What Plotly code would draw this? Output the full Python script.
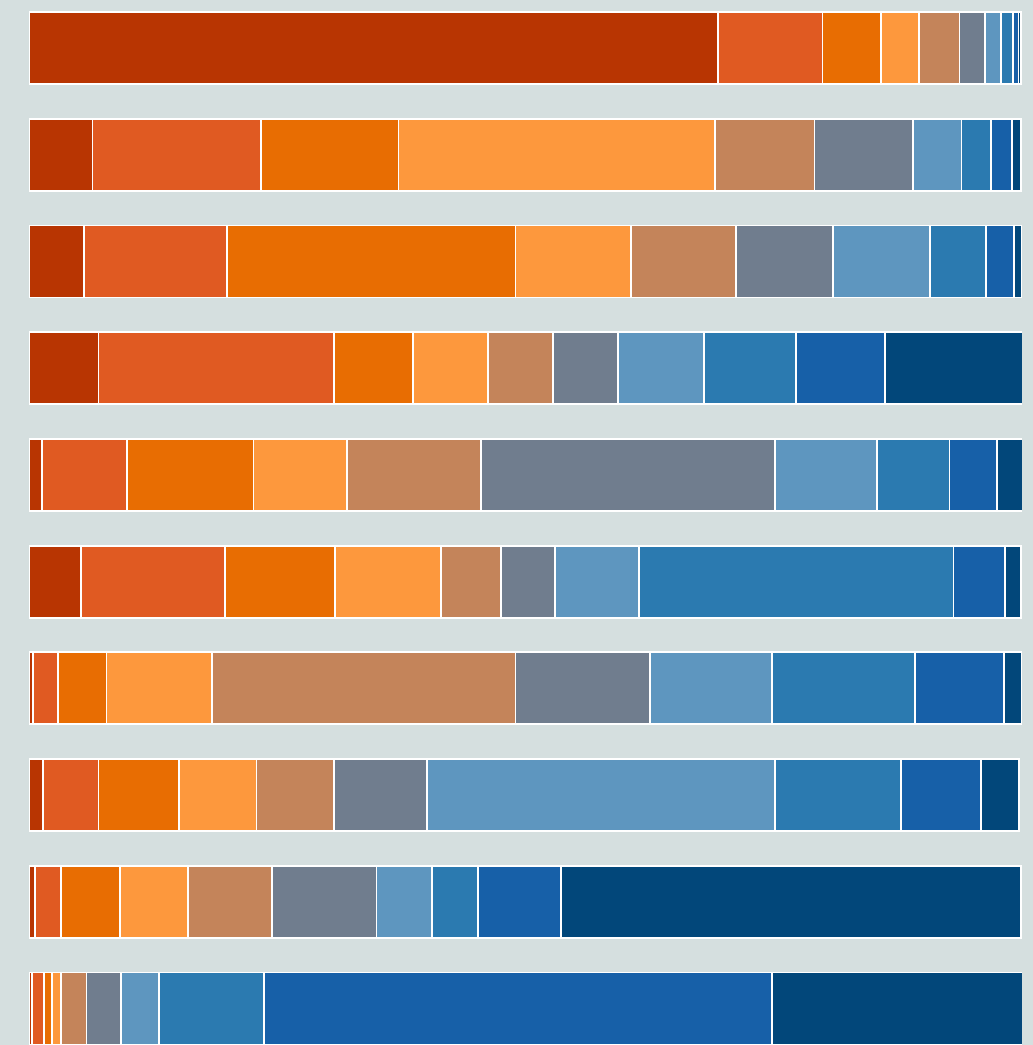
import plotly.graph_objects as go

rows = ["R1", "R2", "R3", "R4", "R5", "R6", "R7", "R8", "R9", "R10"]

s1 = [69.4, 6.4, 5.5, 7.0, 1.3, 5.2, 0.4, 1.4, 0.6, 0.3]
s2 = [10.5, 17.0, 14.4, 23.7, 8.6, 14.5, 2.5, 5.6, 2.6, 1.2]
s3 = [5.9, 13.8, 29.1, 8.0, 12.7, 11.1, 4.9, 8.1, 6.0, 0.8]
s4 = [3.8, 31.9, 11.6, 7.5, 9.4, 10.7, 10.6, 7.8, 6.8, 0.9]
s5 = [4.1, 10.0, 10.6, 6.6, 13.5, 6.0, 30.6, 7.8, 8.5, 2.6]
s6 = [2.6, 9.9, 9.8, 6.5, 29.6, 5.5, 13.5, 9.4, 10.5, 3.5]
s7 = [1.6, 4.9, 9.7, 8.7, 10.3, 8.4, 12.3, 35.0, 5.6, 3.8]
s8 = [1.2, 3.0, 5.7, 9.2, 7.3, 31.7, 14.4, 12.7, 4.6, 10.6]
s9 = [0.55, 2.1, 2.8, 9.0, 4.8, 5.2, 9.0, 8.1, 8.4, 51.1]
s10 = [0.25, 0.9, 0.8, 13.9, 2.6, 1.6, 1.8, 3.8, 46.3, 25.3]

series = [s1, s2, s3, s4, s5, s6, s7, s8, s9, s10]
colors = ["#b83502", "#e05a22", "#e86d02", "#fd983d", "#c4845a",
          "#707d8e", "#5e96bf", "#2b7ab0", "#1760a8", "#02477a"]

fig = go.Figure()
for vals, col in zip(series, colors):
    fig.add_trace(go.Bar(
        y=rows, x=vals, orientation="h",
        marker=dict(color=col, line=dict(color="white", width=1.8)),
        showlegend=False,
    ))

fig.update_layout(
    barmode="stack",
    bargap=0.325,
    width=1033, height=1045,
    margin=dict(l=29, r=11, t=0, b=0),
    paper_bgcolor="#d5dfdf",
    plot_bgcolor="#d5dfdf",
)
fig.update_xaxes(range=[0, 100], showgrid=False, showticklabels=False,
                 zeroline=False, showline=False)
fig.update_yaxes(range=[9.342, -0.45], showgrid=False, showticklabels=False,
                 zeroline=False, showline=False, type="category")

fig.write_html(
    "out.html",
    config={"displayModeBar": False},
    post_script="document.body.style.margin='0';document.body.style.overflow='hidden';document.body.style.background='#d5dfdf';",
)
